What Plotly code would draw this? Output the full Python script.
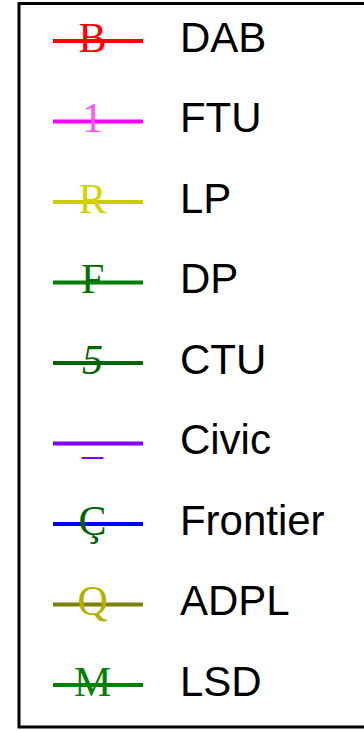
import plotly.graph_objects as go

# Legend entries (data)
names = ["DAB", "FTU", "LP", "DP", "CTU", "Civic", "Frontier", "ADPL", "LSD"]
glyphs = ["B", "1", "R", "F", "<i>5</i>", "_", "Ç", "Q", "M"]
line_colors = ["#ff0000", "#ff00ff", "#cccc00", "#008000", "#006400",
               "#7f00ff", "#0000ff", "#808000", "#008000"]
glyph_colors = ["#ff0000", "#ff55ff", "#d4d400", "#007000", "#006400",
                "#8000ff", "#006400", "#b0b000", "#008000"]

fig = go.Figure()
for i, (n, g, lc, gc) in enumerate(zip(names, glyphs, line_colors, glyph_colors)):
    fig.add_trace(go.Scatter(
        x=[0, 1], y=[i, i], mode="lines",
        line=dict(color=lc, width=4), hoverinfo="skip", showlegend=False))
    fig.add_trace(go.Scatter(
        x=[0.44], y=[i], mode="text", text=[g], textposition="middle center",
        textfont=dict(family="Liberation Serif", size=42, color=gc),
        hoverinfo="skip", showlegend=False))
    fig.add_trace(go.Scatter(
        x=[1.41], y=[i], mode="text", text=[n], textposition="middle right",
        textfont=dict(family="Liberation Sans", size=42, color="#000000"),
        hoverinfo="skip", showlegend=False))

W, H = 364, 731
px_x = 90.0
px_y = 80.5
fig.update_layout(
    width=W, height=H,
    margin=dict(l=0, r=0, t=0, b=0),
    paper_bgcolor="white", plot_bgcolor="white",
    xaxis=dict(range=[-53 / px_x, (W - 53) / px_x], visible=False, fixedrange=True),
    yaxis=dict(range=[(H - 41) / px_y, -41 / px_y], visible=False, fixedrange=True),
    shapes=[dict(type="rect", xref="paper", yref="paper",
                 x0=19 / W, x1=1.1, y0=(H - 727) / H, y1=(H - 3.5) / H,
                 line=dict(color="black", width=3), fillcolor="rgba(0,0,0,0)")],
)
fig.write_html("out.html", config={"staticPlot": True},
               post_script="document.body.style.margin='0';document.body.style.overflow='hidden';")
